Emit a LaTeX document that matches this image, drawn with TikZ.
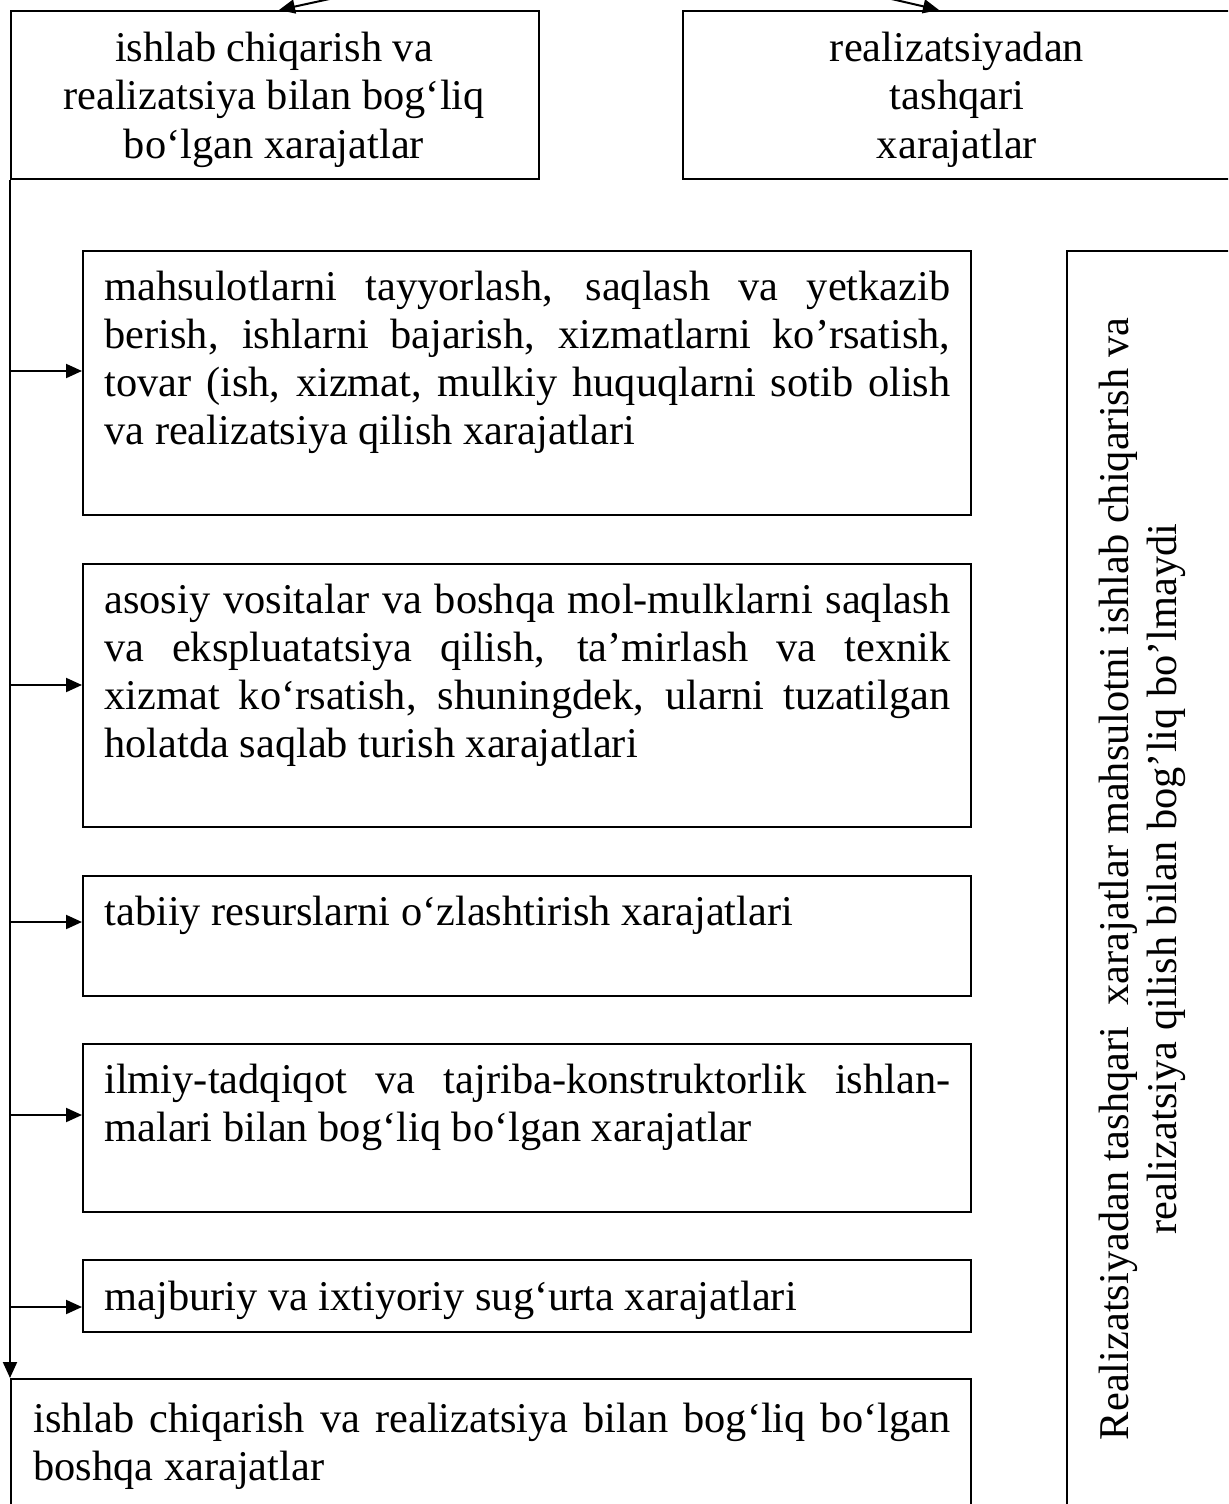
\documentclass[tikz,border=0pt]{standalone}
\usepackage{fontspec}
\setmainfont{Liberation Serif}
\usetikzlibrary{arrows.meta}
\newcommand{\J}[1]{{\spaceskip=0pt\xspaceskip=0pt\makebox[\linewidth][s]{#1}}}
\begin{document}
\begin{tikzpicture}[x=0.5pt,y=-0.5pt,
  box/.style={draw,line width=1pt,inner sep=0pt,anchor=north west},
  txt/.style={inner sep=0pt,font={\fontsize{21.2pt}{24pt}\selectfont}},
  ctxt/.style={txt,align=center,anchor=base,
    execute at begin node={\spaceskip=\fontdimen2\font\relax\xspaceskip=\spaceskip}},
  jtxt/.style={txt,align=justify,anchor=base west,
    execute at begin node={\spaceskip=0pt\xspaceskip=0pt}},
  arr/.style={line width=1pt,-{Triangle[length=8pt,width=7pt]}}]
\useasboundingbox (0,0) rectangle (1228,1504);
\clip (0,0) rectangle (1228,1504);
% boxes
\node[box,minimum width=264pt,minimum height=84pt] (TL) at (10,10) {};
\node[box,minimum width=275pt,minimum height=84pt] (TR) at (682,10) {};
\node[box,minimum width=444pt,minimum height=132pt] (B1) at (82,250) {};
\node[box,minimum width=444pt,minimum height=131.5pt] (B2) at (82,563) {};
\node[box,minimum width=444pt,minimum height=60pt] (B3) at (82,875) {};
\node[box,minimum width=444pt,minimum height=84pt] (B4) at (82,1043) {};
\node[box,minimum width=444pt,minimum height=36pt] (B5) at (82,1259) {};
\node[box,minimum width=480pt,minimum height=95pt] (BB) at (10,1378) {};
\node[box,minimum width=120pt,minimum height=660pt] (RB) at (1066,250) {};
% texts
\node[ctxt,text width=264pt] (TLt) at (274,62) {ishlab chiqarish va\\realizatsiya bilan bog‘liq\\bo‘lgan xarajatlar};
\node[ctxt,text width=275pt] (TRt) at (957,62) {realizatsiyadan\\tashqari\\xarajatlar};
\node[jtxt,text width=423pt] (B1t) at (104,300) {\J{mahsulotlarni tayyorlash, saqlash va yetkazib}\\\J{berish, ishlarni bajarish, xizmatlarni ko’rsatish,}\\\J{tovar (ish, xizmat, mulkiy huquqlarni sotib olish}\\va realizatsiya qilish xarajatlari};
\node[jtxt,text width=423pt] (B2t) at (104,613) {\J{asosiy vositalar va boshqa mol-mulklarni saqlash}\\\J{va ekspluatatsiya qilish, ta’mirlash va texnik}\\\J{xizmat ko‘rsatish, shuningdek, ularni tuzatilgan}\\holatda saqlab turish xarajatlari};
\node[jtxt,text width=423pt] (B3t) at (104,925) {tabiiy resurslarni o‘zlashtirish xarajatlari};
\node[jtxt,text width=423pt] (B4t) at (104,1093) {\J{ilmiy-tadqiqot va tajriba-konstruktorlik ishlan-}\\malari bilan bog‘liq bo‘lgan xarajatlar};
\node[jtxt,text width=423pt] (B5t) at (104,1310) {majburiy va ixtiyoriy sug‘urta xarajatlari};
\node[jtxt,text width=458.5pt] (BBt) at (33,1432) {\J{ishlab chiqarish va realizatsiya bilan bog‘liq bo‘lgan}\\boshqa xarajatlar};
\node[ctxt,text width=640pt,rotate=90] (RBt) at (1128,879) {Realizatsiyadan tashqari\ \ xarajatlar mahsulotni ishlab chiqarish va\\realizatsiya qilish bilan bog’liq bo’lmaydi};
% connectors
\coordinate (a1) at (380,-12);
\coordinate (a2) at (844,-12);
\draw[arr] (a1) -- ([xshift=2pt]TL.north);
\draw[arr] (a2) -- ([xshift=-9.5pt]TR.north);
\draw[arr] (TL.south west) -- (BB.north west);
\coordinate (t1) at (10,371);
\coordinate (t2) at (10,685);
\coordinate (t3) at (10,922);
\coordinate (t4) at (10,1115);
\coordinate (t5) at (10,1307);
\draw[arr] (t1) -- (t1 -| B1.west);
\draw[arr] (t2) -- (t2 -| B2.west);
\draw[arr] (t3) -- (t3 -| B3.west);
\draw[arr] (t4) -- (t4 -| B4.west);
\draw[arr] (t5) -- (t5 -| B5.west);
\end{tikzpicture}
\end{document}
